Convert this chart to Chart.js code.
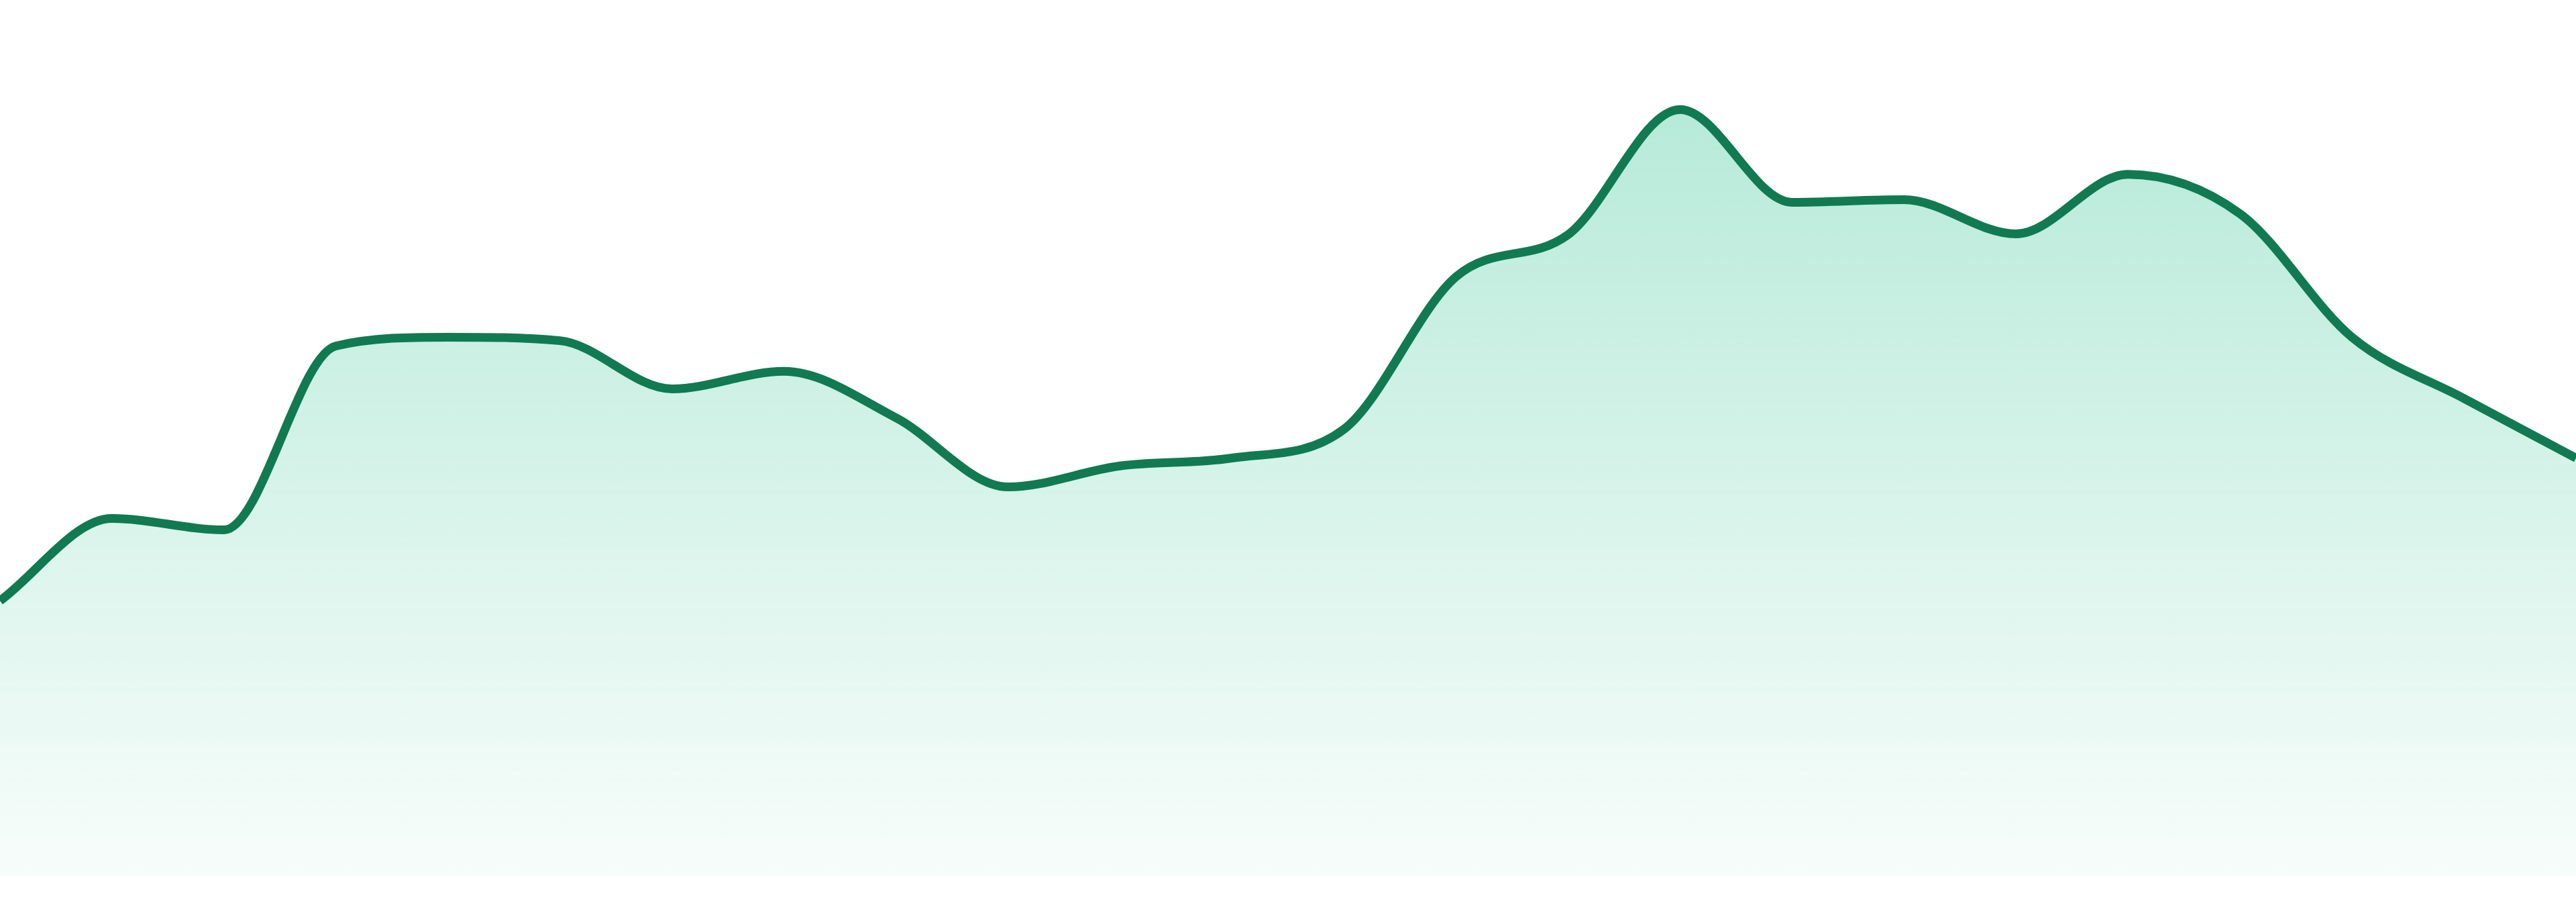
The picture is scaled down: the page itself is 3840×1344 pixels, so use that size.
<!DOCTYPE html>
<html>
<head>
<meta charset="utf-8">
<script src="https://cdn.jsdelivr.net/npm/chart.js@4"></script>
<style>
  html, body { margin: 0; padding: 0; background: #fff; }
  canvas { display: block; }
</style>
</head>
<body>
<canvas id="area" width="3840" height="1344"></canvas>
<script>
const labels = [
    'P1', 'P2', 'P3', 'P4', 'P5', 'P6', 'P7', 'P8',
    'P9', 'P10', 'P11', 'P12', 'P13', 'P14', 'P15', 'P16',
    'P17', 'P18', 'P19', 'P20', 'P21', 'P22', 'P23', 'P24'
];
const values = [
    31.4, 40.8, 39.5, 60.5, 61.5, 61.1, 55.6, 57.6,
    52.3, 44.4, 46.8, 47.7, 51.0, 68.4, 73.2, 87.5,
    76.9, 77.2, 73.3, 80.1, 75.6, 61.5, 54.5, 47.7
];

const area = document.getElementById("area");

let areaChart = new Chart(area, {
    type: 'line',
    data: {
        labels: labels,
        datasets: [{
            data: values,
            borderColor: '#117a52',
            borderWidth: 13,
            cubicInterpolationMode: 'monotone',
            pointRadius: 0,
            fill: 'start',
            backgroundColor: (ctx) => {
                const ca = ctx.chart.chartArea;
                if (!ca) return 'rgba(16,185,129,0.25)';
                const g = ctx.chart.ctx.createLinearGradient(0, ca.top, 0, ca.bottom);
                g.addColorStop(0, 'rgba(16,185,129,0.34)');
                g.addColorStop(1, 'rgba(16,185,129,0.03)');
                return g;
            }
        }]
    },
    options: {
        responsive: false,
        animation: false,
        devicePixelRatio: 1,
        layout: { padding: { top: 0, bottom: 39, left: 0, right: 0 } },
        scales: {
            x: { display: false, offset: false },
            y: { display: false, min: 0, max: 100 }
        },
        plugins: {
            legend: { display: false },
            tooltip: { enabled: false }
        }
    }
})
</script>
</body>
</html>
